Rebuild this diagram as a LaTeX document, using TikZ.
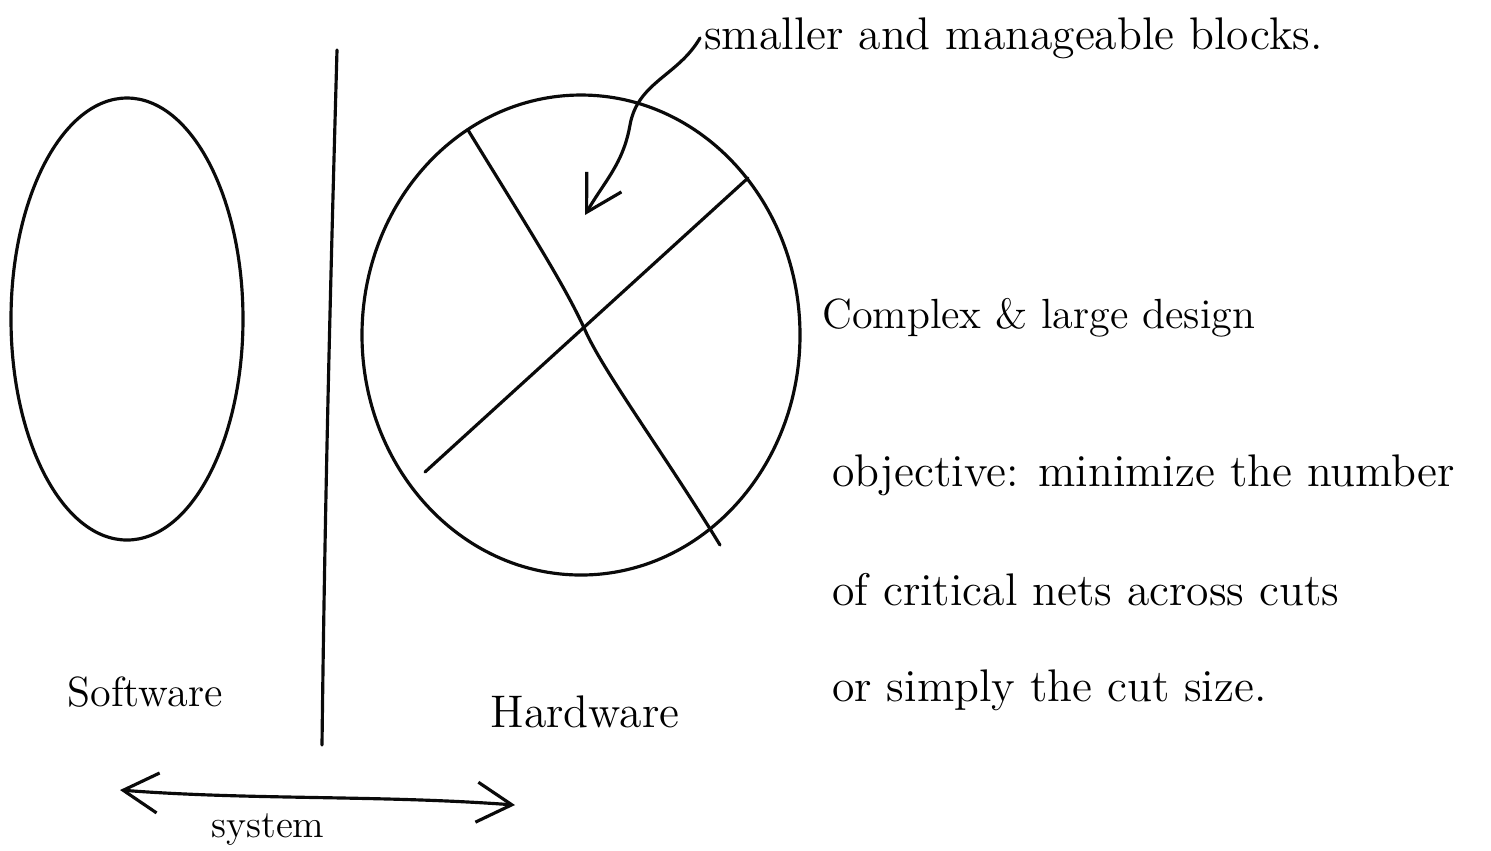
\documentclass[tikz,border=0pt]{standalone}
\usepackage{tikz}
\usetikzlibrary{arrows.meta}
\definecolor{inkblack}{RGB}{10, 10, 10}

\tikzset{
  stroke/.style={draw=inkblack, line width=0.9pt, line cap=round},
  note/.style={font=\fontsize{13}{16}\selectfont, inner sep=1pt, anchor=west},
  tip/.style={-{Straight Barb[length=3.5mm, width=4mm]}}
}

\begin{document}
\begin{tikzpicture}[x=0.01cm, y=-0.01cm]
  \useasboundingbox (0,0) rectangle (1491,850);

  % the two halves
  \draw[stroke] (127,319) ellipse (116 and 221);
  \draw[stroke] (337,50) .. controls (330,300) and (325,500) .. (322,745);
  \draw[stroke] (581,335) ellipse (219 and 240);

  % cuts through the hardware
  \coordinate (c1) at (468,130);
  \coordinate (c2) at (720,545);
  \coordinate (c3) at (425,472);
  \coordinate (c4) at (748,178);
  \draw[stroke] (c1) .. controls (520,215) and (565,285) .. (585,330) .. controls (603,371) and (665,455) .. (c2);
  \draw[stroke] (c3) -- (c4);

  % labels
  \node[note] (blk) at (700,38) {smaller and manageable blocks.};
  \node[note, font=\fontsize{12}{15}\selectfont] (cpx) at (818,318) {Complex \& large design};
  \node[note] (obj1) at (828,475) {objective: minimize the number};
  \node[note] (obj2) at (828,590) {of critical nets across cuts};
  \node[note] (obj3) at (828,690) {or simply the cut size.};
  \node[font=\fontsize{12}{15}\selectfont] (sw) at (145,692) {Software};
  \node[font=\fontsize{13}{16}\selectfont] (hw) at (585,712) {Hardware};
  \node[font=\fontsize{11}{14}\selectfont] (sys) at (268,830) {system};

  \coordinate (tgt) at (585,215);
  \draw[stroke, tip] (blk.west) to[out=240, in=80] (630,125) to[out=260, in=60] (tgt);

  \coordinate (sl) at (120,790);
  \coordinate (sr) at (515,805);
  \draw[stroke, {Straight Barb[length=3.5mm, width=4mm]}-{Straight Barb[length=3.5mm, width=4mm]}] (sl) .. controls (250,800) and (380,795) .. (sr);
\end{tikzpicture}
\end{document}
